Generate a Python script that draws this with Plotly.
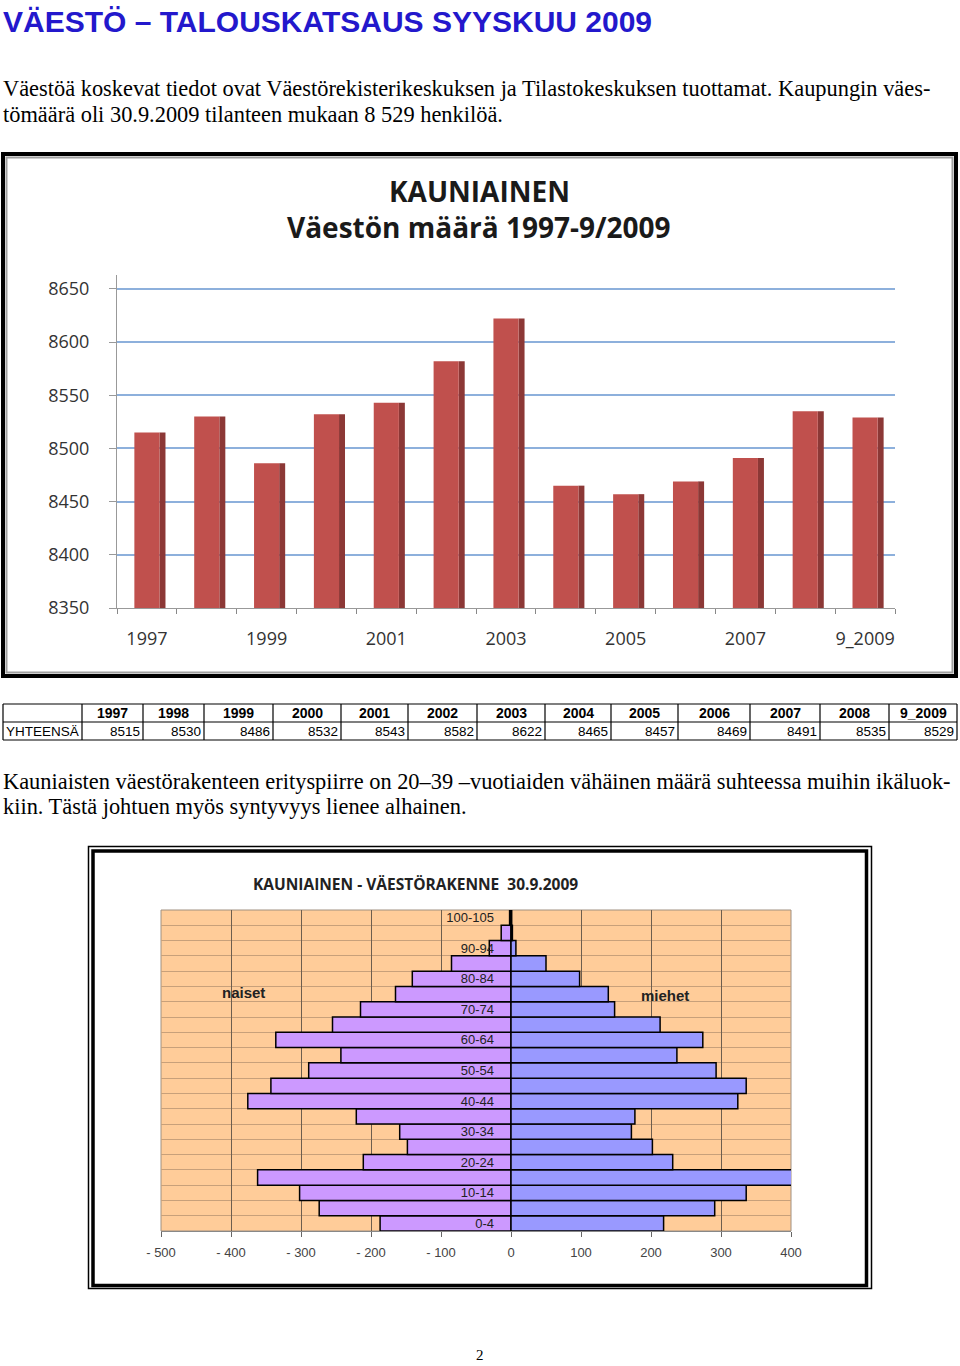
import plotly.graph_objects as go

W, H = 960, 1366

# ---------------- data ----------------
years = ["1997", "1998", "1999", "2000", "2001", "2002", "2003",
         "2004", "2005", "2006", "2007", "2008", "9_2009"]
population = [8515, 8530, 8486, 8532, 8543, 8582, 8622,
              8465, 8457, 8469, 8491, 8535, 8529]
y_ticks = [8350, 8400, 8450, 8500, 8550, 8600, 8650]

age_groups = ["0-4", "5-9", "10-14", "15-19", "20-24", "25-29", "30-34",
              "35-39", "40-44", "45-49", "50-54", "55-59", "60-64", "65-69",
              "70-74", "75-79", "80-84", "85-89", "90-94", "95-99", "100-105"]
women = [187, 274, 302, 362, 211, 148, 159, 221, 376, 343, 289, 243,
         336, 255, 215, 165, 141, 85, 31, 14, 2]
men = [218, 291, 336, 402, 231, 202, 172, 177, 324, 336, 293, 237,
       274, 213, 148, 139, 98, 50, 7, 2, 1]
pyr_ticks = [-500, -400, -300, -200, -100, 0, 100, 200, 300, 400]
pyr_ticktext = ["- 500", "- 400", "- 300", "- 200", "- 100", "0", "100", "200", "300", "400"]

table_label = "YHTEENSÄ"


def px(x):
    return x / W


def py(y):
    return 1 - y / H


fig = go.Figure()

# ---------------- bar chart (3D look) ----------------
fig.add_trace(go.Bar(
    x=years, y=[v - y_ticks[0] for v in population], base=y_ticks[0],
    width=0.1, offset=0.21, marker=dict(color="#8C3836", line=dict(width=0)),
    xaxis="x", yaxis="y", showlegend=False, hoverinfo="skip"))
fig.add_trace(go.Bar(
    x=years, y=[v - y_ticks[0] for v in population], base=y_ticks[0],
    width=0.42, offset=-0.21, marker=dict(color="#C0504D", line=dict(width=0)),
    xaxis="x", yaxis="y", showlegend=False, name="Väestö"))

# ---------------- population pyramid ----------------
idx = list(range(len(age_groups)))
fig.add_trace(go.Bar(
    y=idx, x=[-v for v in women], orientation="h", width=1,
    marker=dict(color="#CC99FF", line=dict(color="black", width=1.5)),
    xaxis="x2", yaxis="y2", showlegend=False, name="naiset"))
fig.add_trace(go.Bar(
    y=idx, x=men, orientation="h", width=1,
    marker=dict(color="#9999FF", line=dict(color="black", width=1.5)),
    xaxis="x2", yaxis="y2", showlegend=False, name="miehet"))

shapes = []
annotations = []


def text(x, y, s, size, family, color="black", xanchor="left", bold=False):
    annotations.append(dict(
        x=px(x), y=py(y), xref="paper", yref="paper", text=("<b>%s</b>" % s) if bold else s,
        showarrow=False, xanchor=xanchor, yanchor="middle",
        font=dict(size=size, family=family, color=color)))


def line(x0, y0, x1, y1, color="black", width=1):
    shapes.append(dict(type="line", xref="paper", yref="paper",
                       x0=px(x0), y0=py(y0), x1=px(x1), y1=py(y1),
                       line=dict(color=color, width=width)))


# ---------------- table (built from the data lists) ----------------
col_edges = [3, 82, 143, 204, 273, 341, 408, 477, 545, 611, 678, 750, 820, 889, 957]
row_edges = [704, 722, 740]
for yy in row_edges:
    line(col_edges[0], yy, col_edges[-1], yy, width=1.2)
for xx in col_edges:
    line(xx, row_edges[0], xx, row_edges[-1], width=1.2)
for i, yr in enumerate(years):
    cx = (col_edges[i + 1] + col_edges[i + 2]) / 2
    text(cx, 713.5, yr, 14, "Liberation Sans", xanchor="center", bold=True)
    text(col_edges[i + 2] - 1, 731.5, str(population[i]), 13.5, "Liberation Sans", xanchor="right")
text(col_edges[0] + 1, 731.5, table_label, 13.5, "Liberation Sans")

# bar chart frame
shapes.append(dict(type="rect", xref="paper", yref="paper",
                   x0=px(3), x1=px(956), y0=py(676), y1=py(154),
                   line=dict(color="black", width=4), fillcolor="rgba(0,0,0,0)"))
shapes.append(dict(type="rect", xref="paper", yref="paper",
                   x0=px(6.5), x1=px(952.5), y0=py(672.5), y1=py(157.5),
                   line=dict(color="#A0A0A0", width=2), fillcolor="rgba(0,0,0,0)"))
# pyramid frame (double line)
shapes.append(dict(type="rect", xref="paper", yref="paper",
                   x0=px(88.5), x1=px(871.5), y0=py(1288.5), y1=py(846.5),
                   line=dict(color="black", width=1.5), fillcolor="rgba(0,0,0,0)"))
shapes.append(dict(type="rect", xref="paper", yref="paper",
                   x0=px(93), x1=px(866.5), y0=py(1285.5), y1=py(851),
                   line=dict(color="black", width=3.5), fillcolor="rgba(0,0,0,0)"))
# pyramid plot background
shapes.append(dict(type="rect", xref="x2 domain", yref="y2 domain",
                   x0=0, x1=1, y0=0, y1=1, layer="below",
                   line=dict(color="#A09080", width=1), fillcolor="#FFCC99"))

text(1, 22, "VÄESTÖ – TALOUSKATSAUS SYYSKUU 2009", 30, "Liberation Sans", "#2318CC", bold=True)
text(1, 89, "Väestöä koskevat tiedot ovat Väestörekisterikeskuksen ja Tilastokeskuksen tuottamat. Kaupungin väes-",
     22.4, "Liberation Serif")
text(1, 115, "tömäärä oli 30.9.2009 tilanteen mukaan 8 529 henkilöä.", 22.4, "Liberation Serif")
text(1, 781, "Kauniaisten väestörakenteen erityspiirre on 20–39 –vuotiaiden vähäinen määrä suhteessa muihin ikäluok-",
     22.4, "Liberation Serif")
text(1, 806, "kiin. Tästä johtuen myös syntyvyys lienee alhainen.", 22.4, "Liberation Serif")
text(480, 1355, "2", 15, "Liberation Serif", xanchor="center")

text(479, 191, "KAUNIAINEN", 28, "Open Sans", "#1a1a1a", xanchor="center", bold=True)
text(479, 227, "Väestön määrä 1997-9/2009", 28, "Open Sans", "#1a1a1a", xanchor="center", bold=True)

text(415, 884, "KAUNIAINEN - VÄESTÖRAKENNE  30.9.2009", 15.5, "Open Sans", "#222222",
     xanchor="center", bold=True)
text(243, 992, "naiset", 15, "Liberation Sans", "#222222", xanchor="center", bold=True)
text(665, 995, "miehet", 15, "Liberation Sans", "#222222", xanchor="center", bold=True)

# age labels drawn through the y2 axis (every other group)
label_idx = [i for i in idx if i % 2 == 0]

fig.update_layout(
    width=W, height=H, autosize=False,
    margin=dict(l=0, r=0, t=0, b=0, pad=0, autoexpand=False),
    paper_bgcolor="white", plot_bgcolor="rgba(0,0,0,0)",
    barmode="overlay",
    shapes=shapes, annotations=annotations,
    xaxis=dict(domain=[px(117), px(895)], anchor="y", type="category", automargin=False,
               categoryorder="array", categoryarray=years,
               tickvals=years, ticktext=[y if i % 2 == 0 else "" for i, y in enumerate(years)],
               tickangle=0,
               tickson="boundaries", ticks="outside", ticklen=5, tickcolor="#888888",
               showline=True, linecolor="#999999", linewidth=1.2, showgrid=False,
               ticklabelstandoff=14,
               tickfont=dict(family="Open Sans", size=18, color="#333333")),
    yaxis=dict(domain=[py(608), py(275)], anchor="x", range=[8350, 8663], automargin=False,
               tickvals=y_ticks, ticks="outside", ticklen=7, tickcolor="#999999",
               showline=True, linecolor="#999999", linewidth=1.2,
               showgrid=True, gridcolor="#8DB0DC", gridwidth=1.5, zeroline=False,
               ticklabelstandoff=16,
               tickfont=dict(family="Open Sans", size=18, color="#333333")),
    xaxis2=dict(domain=[px(161), px(791)], anchor="y2", range=[-500, 400], automargin=False,
                tickvals=pyr_ticks, ticktext=pyr_ticktext, tickangle=0,
                ticks="outside", ticklen=5, tickcolor="#666666",
                showline=True, linecolor="#888888", linewidth=1,
                showgrid=True, gridcolor="#6E5E4E", gridwidth=1,
                zeroline=True, zerolinecolor="black", zerolinewidth=2,
                ticklabelstandoff=4,
                tickfont=dict(family="Liberation Sans", size=13, color="#444444")),
    yaxis2=dict(domain=[py(1231), py(910)], anchor="free", position=px(511), automargin=False,
                range=[-0.5, len(age_groups) - 0.5],
                tickvals=label_idx, ticktext=[age_groups[i] for i in label_idx],
                ticks="", showline=False, showgrid=False, zeroline=False,
                ticklabelstandoff=17,
                minor=dict(tickvals=[i + 0.5 for i in idx[:-1]], showgrid=True,
                           gridcolor="#C8A07A", gridwidth=1, ticks=""),
                tickfont=dict(family="Liberation Sans", size=13, color="#222222")),
)

fig.write_html("out.html")
